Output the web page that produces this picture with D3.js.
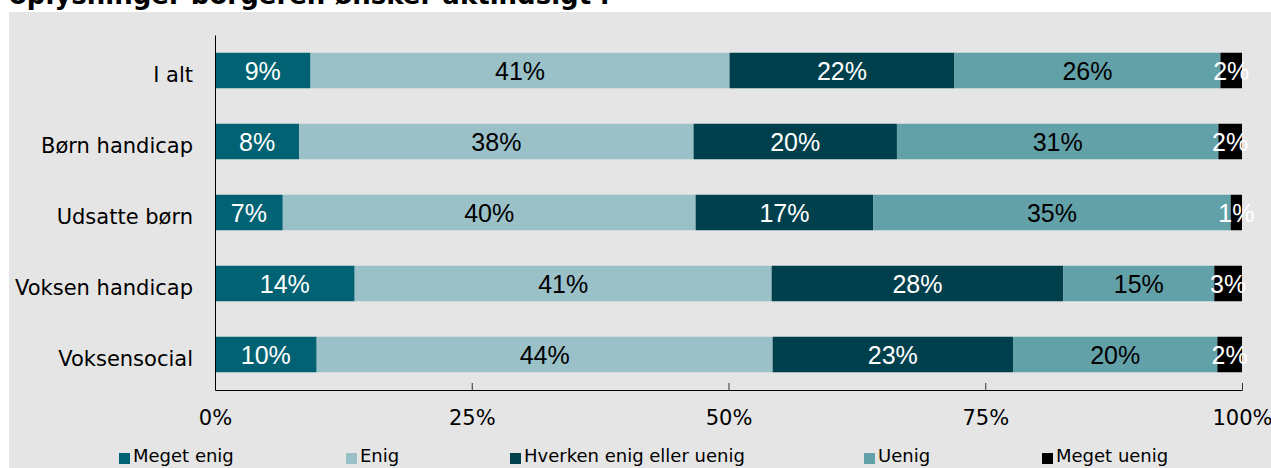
<!DOCTYPE html>
<html>
<head>
<meta charset="utf-8">
<script src="https://cdn.jsdelivr.net/npm/d3@7"></script>
<style>
  body { margin: 0; background: #fff; }
</style>
</head>
<body>
<div id="chart"></div>
<script>
const svgWidth = 1271;
const svgHeight = 468;
const margin = {top: 35, right: 29, bottom: 78, left: 215};

const title = "oplysninger borgeren ønsker aktindsigt i";
const categories = ["I alt", "Børn handicap", "Udsatte børn", "Voksen handicap", "Voksensocial"];
const seriesNames = ["Meget enig", "Enig", "Hverken enig eller uenig", "Uenig", "Meget uenig"];
// percent shares per category
const megetEnig  = [9.3, 8.2, 6.6, 13.6, 9.9];
const enig       = [40.8, 38.4, 40.2, 40.6, 44.4];
const hverken    = [21.9, 19.8, 17.3, 28.4, 23.4];
const uenig      = [25.9, 31.3, 34.8, 14.7, 19.9];
const megetUenig = [2.1, 2.3, 1.1, 2.7, 2.4];
const xTicks = [0, 25, 50, 75, 100];

const colors = ["#006272", "#9bc1c8", "#003f4c", "#63a1a9", "#000000"];
const labelColors = ["#fff", "#000", "#fff", "#000", "#fff"];
const legendX = [119, 346, 510, 864, 1042];

document.addEventListener("DOMContentLoaded", function(){
    drawChart();
});

function drawChart(){
    const series = [megetEnig, enig, hverken, uenig, megetUenig];
    const rows = categories.map(function(c, i){
        const r = {category: c};
        seriesNames.forEach(function(s, j){ r[s] = series[j][i]; });
        return r;
    });

    const svg = d3.select("#chart")
                  .append("svg")
                  .attr("width", svgWidth)
                  .attr("height", svgHeight);

    // grey chart area
    svg.append("rect")
       .attr("x", 9).attr("y", 12)
       .attr("width", svgWidth - 9).attr("height", svgHeight - 12)
       .attr("fill", "#e5e5e5");

    svg.append("text")
       .attr("x", 9).attr("y", 4)
       .attr("font-family", "DejaVu Sans")
       .attr("font-weight", "bold")
       .attr("font-size", 26)
       .attr("fill", "#000")
       .text(title);

    const xscale = d3.scaleLinear()
                     .domain([0, 100])
                     .range([margin.left, svgWidth - margin.right]);

    const yscale = d3.scaleBand()
                     .domain(categories)
                     .range([margin.top, svgHeight - margin.bottom])
                     .paddingInner(0.5)
                     .paddingOuter(0.25);

    const stacked = d3.stack().keys(seriesNames)(rows);

    const groups = svg.selectAll("g.series")
                      .data(stacked)
                      .enter()
                      .append("g")
                      .attr("class", "series");

    groups.each(function(s, j){
        const g = d3.select(this);
        g.selectAll("rect")
         .data(s)
         .enter()
         .append("rect")
         .attr("x", function(d){ return xscale(d[0]); })
         .attr("y", function(d){ return yscale(d.data.category); })
         .attr("width", function(d){ return xscale(d[1]) - xscale(d[0]); })
         .attr("height", yscale.bandwidth())
         .attr("fill", colors[j]);
    });

    groups.each(function(s, j){
        const g = d3.select(this);
        g.selectAll("text")
         .data(s)
         .enter()
         .append("text")
         .attr("x", function(d){ return (xscale(d[0]) + xscale(d[1])) / 2; })
         .attr("y", function(d){ return yscale(d.data.category) + yscale.bandwidth() / 2; })
         .attr("dy", "0.36em")
         .attr("text-anchor", "middle")
         .attr("font-family", "Liberation Sans")
         .attr("font-size", 25)
         .attr("fill", labelColors[j])
         .text(function(d){ return Math.round(d[1] - d[0]) + "%"; });
    });

    // x axis, ticks pointing up into the plot
    const xaxis = d3.axisBottom(xscale)
                    .tickValues(xTicks)
                    .tickSizeInner(-7)
                    .tickSizeOuter(0)
                    .tickPadding(20)
                    .tickFormat(function(d){ return d + "%"; });

    const xg = svg.append("g")
                  .attr("transform", "translate(0," + (svgHeight - margin.bottom) + ")")
                  .call(xaxis);
    xg.selectAll("text")
      .attr("font-family", "DejaVu Sans")
      .attr("font-size", 21)
      .attr("fill", "#000");
    xg.selectAll("line").attr("stroke", "#333");
    xg.select(".domain").attr("stroke", "#000");

    const yaxis = d3.axisLeft(yscale)
                    .tickSize(0)
                    .tickPadding(22);

    const yg = svg.append("g")
                  .attr("transform", "translate(" + margin.left + ",0)")
                  .call(yaxis);
    yg.selectAll("text")
      .attr("font-family", "DejaVu Sans")
      .attr("font-size", 21)
      .attr("dy", "0.57em")
      .attr("fill", "#000");
    yg.select(".domain").attr("stroke", "#000");

    // legend
    const legend = svg.selectAll("g.legend")
                      .data(seriesNames)
                      .enter()
                      .append("g")
                      .attr("class", "legend")
                      .attr("transform", function(d, i){ return "translate(" + legendX[i] + ",0)"; });

    legend.append("rect")
          .attr("x", 0).attr("y", 453)
          .attr("width", 11).attr("height", 11)
          .attr("fill", function(d, i){ return colors[i]; });

    legend.append("text")
          .attr("x", 14).attr("y", 462)
          .attr("font-family", "DejaVu Sans")
          .attr("font-size", 18)
          .attr("fill", "#000")
          .text(function(d){ return d; });
}
</script>
</body>
</html>
